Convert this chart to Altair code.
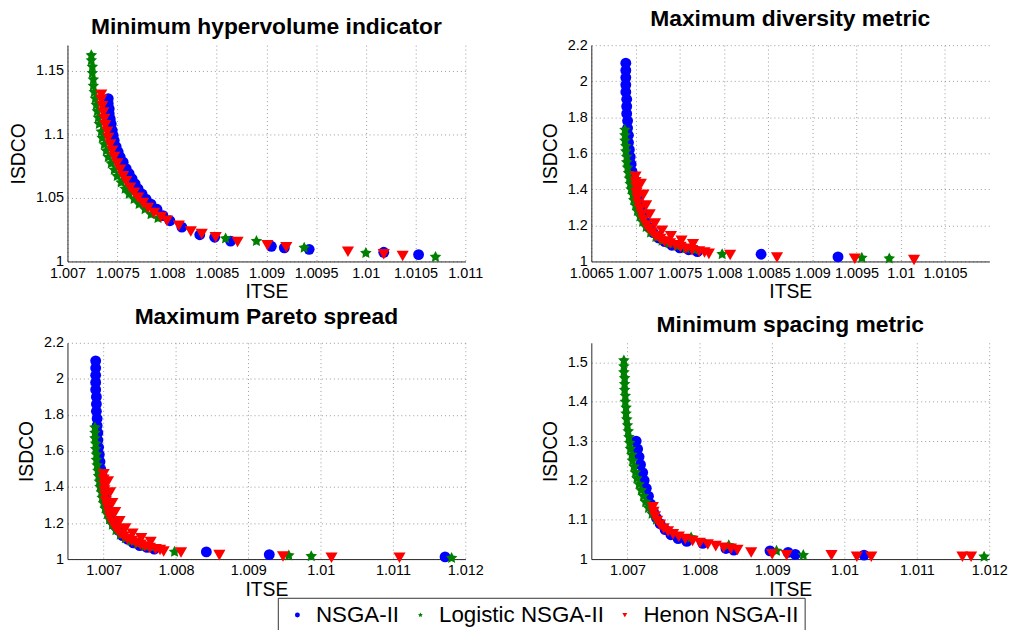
import altair as alt
import pandas as pd

SERIES = ["NSGA-II", "Logistic NSGA-II", "Henon NSGA-II"]
COLORS = ["#0000ff", "#008000", "#ff0000"]
# five-pointed star in the unit square used by Vega custom symbols
STAR = ("M0,-1L0.294,-0.405L0.951,-0.309L0.476,0.155L0.588,0.809L0,0.5"
        "L-0.588,0.809L-0.476,0.155L-0.951,-0.309L-0.294,-0.405Z")
SHAPES = ["circle", STAR, "triangle-down"]
SIZES = [120, 150, 150]
FONT = "Liberation Sans"

# ---- Minimum hypervolume indicator ----
HV_NSGA_X = [1.00741, 1.00741, 1.00742, 1.00742, 1.00743, 1.00744, 1.00745, 1.00746, 1.00747,
             1.00749, 1.00751, 1.00753, 1.00756, 1.00759, 1.00762, 1.00765, 1.00768, 1.00771,
             1.00775, 1.00779, 1.00784, 1.00790, 1.00796, 1.00803, 1.00815, 1.00833, 1.00848,
             1.00864, 1.00905, 1.00918, 1.00943, 1.01018, 1.01053]
HV_NSGA_Y = [1.128, 1.124, 1.120, 1.116, 1.112, 1.108, 1.103, 1.099, 1.095,
             1.090, 1.086, 1.082, 1.078, 1.073, 1.069, 1.065, 1.061, 1.057,
             1.053, 1.049, 1.045, 1.041, 1.036, 1.032, 1.027, 1.021, 1.019,
             1.016, 1.0119, 1.0107, 1.0095, 1.0072, 1.0054]
HV_LOG_X = [1.00724, 1.00724, 1.00725, 1.00725, 1.00726, 1.00726, 1.00727, 1.00728, 1.00729,
            1.00730, 1.00731, 1.00732, 1.00734, 1.00735, 1.00737, 1.00739, 1.00741, 1.00744,
            1.00747, 1.00750, 1.00754, 1.00758, 1.00762, 1.00767, 1.00772, 1.00778, 1.00784,
            1.00791, 1.00859, 1.00890, 1.00938, 1.01000, 1.01070]
HV_LOG_Y = [1.162, 1.158, 1.153, 1.148, 1.143, 1.138, 1.133, 1.128, 1.123,
            1.118, 1.113, 1.108, 1.102, 1.097, 1.092, 1.087, 1.082, 1.077,
            1.072, 1.067, 1.062, 1.057, 1.053, 1.049, 1.045, 1.041, 1.037,
            1.034, 1.018, 1.016, 1.0107, 1.0066, 1.0035]
HV_HEN_X = [1.00734, 1.00734, 1.00735, 1.00736, 1.00737, 1.00738, 1.00740, 1.00741, 1.00743,
            1.00745, 1.00747, 1.00750, 1.00753, 1.00756, 1.00759, 1.00763, 1.00767, 1.00771,
            1.00776, 1.00781, 1.00787, 1.00794, 1.00800, 1.00812, 1.00824, 1.00835, 1.00849,
            1.00871, 1.00901, 1.00920, 1.00982, 1.01018, 1.01037]
HV_HEN_Y = [1.131, 1.127, 1.122, 1.117, 1.112, 1.107, 1.102, 1.097, 1.092,
            1.087, 1.082, 1.077, 1.072, 1.067, 1.063, 1.058, 1.054, 1.050,
            1.046, 1.042, 1.038, 1.035, 1.032, 1.028, 1.0236, 1.0215, 1.019,
            1.0153, 1.0127, 1.0112, 1.0077, 1.0056, 1.0043]

# ---- fronts shared by the diversity and Pareto-spread runs ----
DV_NSGA_X = [1.00689, 1.00689, 1.00689, 1.00689, 1.00689, 1.00690, 1.00690, 1.00690, 1.00691,
             1.00691, 1.00692, 1.00692, 1.00693, 1.00694, 1.00695, 1.00696, 1.00698, 1.00699,
             1.00701, 1.00703, 1.00705, 1.00708, 1.00711, 1.00715, 1.00720, 1.00726, 1.00733,
             1.00741, 1.00750, 1.00760, 1.00770, 1.00842, 1.00929]
DV_NSGA_Y = [2.10, 2.06, 2.02, 1.98, 1.94, 1.90, 1.86, 1.82, 1.78,
             1.74, 1.70, 1.66, 1.62, 1.58, 1.54, 1.50, 1.46, 1.42,
             1.38, 1.34, 1.30, 1.26, 1.22, 1.19, 1.16, 1.13, 1.11,
             1.09, 1.075, 1.065, 1.055, 1.040, 1.025]
DV_LOG_X = [1.00688, 1.00688, 1.00688, 1.00689, 1.00689, 1.00690, 1.00690, 1.00691, 1.00692,
            1.00693, 1.00694, 1.00695, 1.00697, 1.00698, 1.00700, 1.00702, 1.00705, 1.00708,
            1.00712, 1.00717, 1.00723, 1.00730, 1.00738, 1.00747, 1.00757, 1.00767, 1.00798,
            1.00956, 1.00987]
DV_LOG_Y = [1.73, 1.70, 1.67, 1.64, 1.61, 1.58, 1.55, 1.52, 1.49,
            1.46, 1.43, 1.40, 1.37, 1.34, 1.31, 1.28, 1.25, 1.22,
            1.19, 1.16, 1.135, 1.115, 1.10, 1.085, 1.072, 1.064, 1.040,
            1.020, 1.016]
DV_HEN_X = [1.00700, 1.00700, 1.00701, 1.00701, 1.00702, 1.00703, 1.00705, 1.00707, 1.00709,
            1.00712, 1.00715, 1.00719, 1.00723, 1.00728, 1.00733, 1.00739, 1.00745, 1.00751,
            1.00757, 1.00764, 1.00772, 1.00778, 1.00706, 1.00709, 1.00712, 1.00716, 1.00722,
            1.00730, 1.00740, 1.00752, 1.00765, 1.00783, 1.00807, 1.00860, 1.00948, 1.01015]
DV_HEN_Y = [1.47, 1.44, 1.41, 1.38, 1.35, 1.32, 1.29, 1.26, 1.23,
            1.20, 1.18, 1.16, 1.14, 1.125, 1.11, 1.10, 1.09, 1.08,
            1.07, 1.062, 1.055, 1.05, 1.43, 1.37, 1.31, 1.26, 1.21,
            1.17, 1.14, 1.115, 1.095, 1.042, 1.036, 1.022, 1.015, 1.008]

# ---- Maximum Pareto spread: same fronts plus the far tail ----
PS_NSGA_X = DV_NSGA_X + [1.01172]
PS_NSGA_Y = DV_NSGA_Y + [1.012]
PS_LOG_X = DV_LOG_X + [1.01181]
PS_LOG_Y = DV_LOG_Y + [1.006]
PS_HEN_X = DV_HEN_X + [1.01109]
PS_HEN_Y = DV_HEN_Y + [1.007]

# ---- Minimum spacing metric ----
SP_NSGA_X = [1.00712, 1.00714, 1.00716, 1.00718, 1.00721, 1.00723, 1.00726, 1.00729, 1.00732,
             1.00736, 1.00740, 1.00745, 1.00752, 1.00760, 1.00770, 1.00782, 1.00804, 1.00836,
             1.00847, 1.00897, 1.00922, 1.00932, 1.01027]
SP_NSGA_Y = [1.30, 1.28, 1.26, 1.24, 1.22, 1.20, 1.18, 1.16, 1.14,
             1.12, 1.105, 1.09, 1.075, 1.062, 1.052, 1.045, 1.040, 1.027,
             1.023, 1.021, 1.017, 1.012, 1.010]
SP_LOG_X = [1.00695, 1.00695, 1.00695, 1.00696, 1.00696, 1.00696, 1.00697, 1.00697, 1.00698,
            1.00698, 1.00699, 1.00700, 1.00701, 1.00702, 1.00703, 1.00704, 1.00706, 1.00707,
            1.00709, 1.00711, 1.00713, 1.00716, 1.00719, 1.00722, 1.00725, 1.00729, 1.00734,
            1.00740, 1.00788, 1.00840, 1.00906, 1.00943, 1.01193]
SP_LOG_Y = [1.505, 1.49, 1.475, 1.46, 1.445, 1.43, 1.415, 1.40, 1.385,
            1.37, 1.355, 1.34, 1.325, 1.31, 1.295, 1.28, 1.265, 1.25,
            1.235, 1.22, 1.205, 1.19, 1.175, 1.16, 1.145, 1.13, 1.115,
            1.10, 1.055, 1.035, 1.021, 1.010, 1.006]
SP_HEN_X = [1.00735, 1.00736, 1.00738, 1.00741, 1.00745, 1.00750, 1.00756, 1.00763, 1.00771,
            1.00780, 1.00790, 1.00800, 1.00811, 1.00822, 1.00833, 1.00843, 1.00852, 1.00871,
            1.00900, 1.00920, 1.00982, 1.01017, 1.01037, 1.01163, 1.01175]
SP_HEN_Y = [1.132, 1.12, 1.108, 1.097, 1.087, 1.078, 1.070, 1.063, 1.057,
            1.051, 1.046, 1.041, 1.037, 1.033, 1.029, 1.026, 1.023, 1.017,
            1.0126, 1.010, 1.010, 1.006, 1.006, 1.006, 1.006]

X_TICKS_HV = [1.007, 1.0075, 1.008, 1.0085, 1.009, 1.0095, 1.01, 1.0105, 1.011]
X_TICKS_DV = [1.0065, 1.007, 1.0075, 1.008, 1.0085, 1.009, 1.0095, 1.01, 1.0105]
X_TICKS_WIDE = [1.007, 1.008, 1.009, 1.01, 1.011, 1.012]
Y_TICKS_HV = [1, 1.05, 1.1, 1.15]
Y_TICKS_BIG = [1, 1.2, 1.4, 1.6, 1.8, 2, 2.2]
Y_TICKS_SP = [1, 1.1, 1.2, 1.3, 1.4, 1.5]


def frame(xs_nsga, ys_nsga, xs_log, ys_log, xs_hen, ys_hen):
    rows = []
    for name, xs, ys in zip(SERIES, [xs_nsga, xs_log, xs_hen], [ys_nsga, ys_log, ys_hen]):
        rows += [{"x": x, "y": y, "series": name} for x, y in zip(xs, ys)]
    return pd.DataFrame(rows)


def panel(title, df, xdom, xticks, ydom, yticks):
    base = alt.Chart(df).encode(
        x=alt.X("x:Q", title="ITSE",
                scale=alt.Scale(domain=xdom, nice=False, zero=False),
                axis=alt.Axis(values=xticks, format="~g", labelPadding=5, titlePadding=3)),
        y=alt.Y("y:Q", title="ISDCO",
                scale=alt.Scale(domain=ydom, nice=False, zero=False),
                axis=alt.Axis(values=yticks, format="~g", titlePadding=7)),
        color=alt.Color("series:N", scale=alt.Scale(domain=SERIES, range=COLORS),
                        legend=alt.Legend(title=None)),
        shape=alt.Shape("series:N", scale=alt.Scale(domain=SERIES, range=SHAPES),
                        legend=alt.Legend(title=None)),
    )
    # one layer per algorithm, drawn in legend order so later runs sit on top
    layers = [
        base.transform_filter(alt.datum.series == name)
        .mark_point(filled=True, opacity=1, strokeWidth=0, size=size)
        for name, size in zip(SERIES, SIZES)
    ]
    return alt.layer(*layers).properties(width=401, height=218, title=title)


p1 = panel("Minimum hypervolume indicator",
           frame(HV_NSGA_X, HV_NSGA_Y, HV_LOG_X, HV_LOG_Y, HV_HEN_X, HV_HEN_Y),
           [1.007, 1.011], X_TICKS_HV, [1, 1.17], Y_TICKS_HV)
p2 = panel("Maximum diversity metric",
           frame(DV_NSGA_X, DV_NSGA_Y, DV_LOG_X, DV_LOG_Y, DV_HEN_X, DV_HEN_Y),
           [1.0065, 1.011], X_TICKS_DV, [1, 2.2], Y_TICKS_BIG)
p3 = panel("Maximum Pareto spread",
           frame(PS_NSGA_X, PS_NSGA_Y, PS_LOG_X, PS_LOG_Y, PS_HEN_X, PS_HEN_Y),
           [1.0065, 1.012], X_TICKS_WIDE, [1, 2.2], Y_TICKS_BIG)
p4 = panel("Minimum spacing metric",
           frame(SP_NSGA_X, SP_NSGA_Y, SP_LOG_X, SP_LOG_Y, SP_HEN_X, SP_HEN_Y),
           [1.0065, 1.012], X_TICKS_WIDE, [1, 1.55], Y_TICKS_SP)

chart = alt.concat(
    p1, p2, p3, p4, columns=2, spacing={"row": 82, "column": 127}, bounds="flush"
).properties(
    padding={"left": 8, "top": 6, "right": 5, "bottom": 0}
).configure_view(
    stroke=None
).configure_axis(
    labelFont=FONT, labelFontSize=14.5, labelColor="black", labelPadding=4,
    labelFlush=False, labelOverlap=False,
    titleFont=FONT, titleFontSize=19.5, titleFontWeight="normal", titleColor="black",
    grid=True, gridColor="#9a9a9a", gridDash=[1, 3], gridWidth=1,
    ticks=False, domainColor="#262626", domainWidth=1,
).configure_title(
    font=FONT, fontSize=23, fontWeight="bold", color="black", anchor="middle", offset=6
).configure_legend(
    orient="none", legendX=212, legendY=557, direction="horizontal",
    strokeColor="#333333", fillColor="white", padding=6,
    labelFont=FONT, labelFontSize=22.5, labelColor="black", labelLimit=400,
    symbolSize=25, symbolStrokeWidth=0, symbolOffset=2.5, labelOffset=7.5, columnPadding=7,
)

chart.save("out.html", embed_options={"renderer": "svg", "actions": False})
